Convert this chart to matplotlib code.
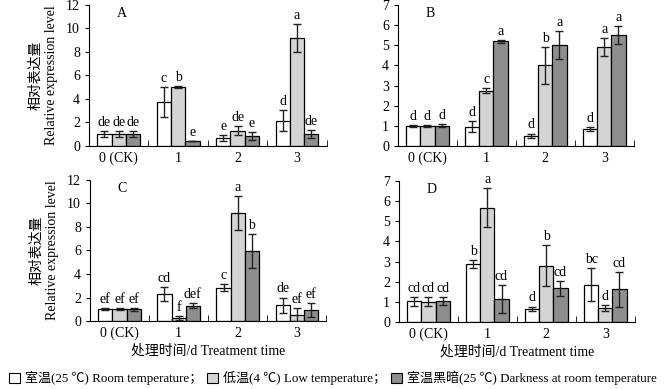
import matplotlib
matplotlib.use('Agg')
import matplotlib.pyplot as plt
from matplotlib.patches import Patch
import numpy as np

plt.rcParams['font.family'] = ['Liberation Serif', 'Noto Sans CJK SC']
plt.rcParams['font.size'] = 10

groups = ['0 (CK)', '1', '2', '3']
seriesNames = ['室温(25 ℃) Room temperature；', '低温(4 ℃) Low temperature；', '室温黑暗(25 ℃) Darkness at room temperature']
seriesColors = ['white', '#d4d4d4', '#8e8e8e']

# panel A (rows = treatment, cols = time point)
aMeans = [[1.0, 3.75, 0.7, 2.15], [1.0, 5.0, 1.3, 9.2], [1.0, 0.4, 0.85, 1.0]]
aErrs = [[0.25, 1.25, 0.25, 0.9], [0.25, 0.1, 0.4, 1.2], [0.25, 0.0, 0.35, 0.35]]
aLetters = [['de', 'c', 'e', 'd'], ['de', 'b', 'de', 'a'], ['de', 'e', 'e', 'de']]

# panel B
bMeans = [[1.0, 0.95, 0.5, 0.82], [1.0, 2.75, 4.0, 4.9], [1.0, 5.2, 5.0, 5.5]]
bErrs = [[0.05, 0.28, 0.12, 0.1], [0.05, 0.12, 0.9, 0.45], [0.08, 0.07, 0.7, 0.45]]
bLetters = [['d', 'd', 'd', 'd'], ['d', 'c', 'b', 'a'], ['d', 'a', 'a', 'a']]

# panel C
cMeans = [[1.0, 2.3, 2.85, 1.35], [1.0, 0.25, 9.2, 0.55], [1.0, 1.3, 5.95, 0.9]]
cErrs = [[0.1, 0.6, 0.3, 0.65], [0.1, 0.15, 1.45, 0.55], [0.12, 0.2, 1.45, 0.6]]
cLetters = [['ef', 'cd', 'c', 'de'], ['ef', 'f', 'a', 'ef'], ['ef', 'def', 'b', 'ef']]

# panel D
dMeans = [[1.03, 2.87, 0.67, 1.85], [1.0, 5.68, 2.8, 0.7], [1.03, 1.13, 1.68, 1.62]]
dErrs = [[0.22, 0.2, 0.1, 0.83], [0.22, 0.95, 1.0, 0.15], [0.2, 0.7, 0.37, 0.87]]
dLetters = [['cd', 'b', 'd', 'bc'], ['cd', 'a', 'b', 'd'], ['cd', 'cd', 'cd', 'cd']]


def drawPanel(ax, means, errs, letters, yMax, panelName, showYLabel, showXLabel):
    barWidth = 0.24
    centers = np.arange(len(groups)) + 0.5
    for i in range(3):
        xs = centers + (i - 1) * barWidth
        ax.bar(xs, means[i], width=barWidth, color=seriesColors[i], edgecolor='black', linewidth=0.9, zorder=2)
        ax.errorbar(xs, means[i], yerr=errs[i], fmt='none', ecolor='#222222', elinewidth=1.0, capsize=3, capthick=1.0, zorder=3)
        for x, m, e, lab in zip(xs, means[i], errs[i], letters[i]):
            ax.text(x, m + e + yMax * 0.015, lab, ha='center', va='bottom', fontsize=10)
    ax.set_xlim(0, 4)
    ax.set_ylim(0, yMax)
    ax.set_yticks(range(0, yMax + 1, 2 if yMax > 7 else 1))
    ax.set_xticks(centers)
    ax.set_xticklabels(groups, fontsize=10)
    ax.tick_params(axis='x', length=0, pad=4)
    ax.set_xticks([1, 2, 3, 4], minor=True)
    ax.tick_params(axis='x', which='minor', direction='in', length=4)
    ax.tick_params(axis='y', direction='out', length=3, labelsize=10)
    ax.spines['top'].set_visible(False)
    ax.spines['right'].set_visible(False)
    ax.text(0.55, yMax * 0.94, panelName, ha='center', va='center', fontsize=10)
    if showYLabel:
        ax.set_ylabel('相对表达量\nRelative expression level', fontsize=10, labelpad=6)
    if showXLabel:
        ax.set_xlabel('处理时间/d Treatment time', fontsize=10, labelpad=3)


fig = plt.figure(figsize=(6.66, 3.89), dpi=100)
axA = fig.add_axes([0.1336, 0.6247, 0.357, 0.3625])
axB = fig.add_axes([0.5976, 0.6247, 0.354, 0.3625])
axC = fig.add_axes([0.1351, 0.1748, 0.355, 0.3625])
axD = fig.add_axes([0.5991, 0.1722, 0.354, 0.3625])

drawPanel(axA, aMeans, aErrs, aLetters, 12, 'A', True, False)
drawPanel(axB, bMeans, bErrs, bLetters, 7, 'B', False, False)
drawPanel(axC, cMeans, cErrs, cLetters, 12, 'C', True, True)
drawPanel(axD, dMeans, dErrs, dLetters, 7, 'D', False, True)

handles = [Patch(facecolor=c, edgecolor='black', linewidth=0.8) for c in seriesColors]
fig.legend(handles, seriesNames, loc='center', bbox_to_anchor=(0.5, 0.028), ncol=3, frameon=False,
           fontsize=9.4, handlelength=0.8, handleheight=0.8, handletextpad=0.4, columnspacing=0.4, borderpad=0)

fig.savefig('out.png', dpi=100)
